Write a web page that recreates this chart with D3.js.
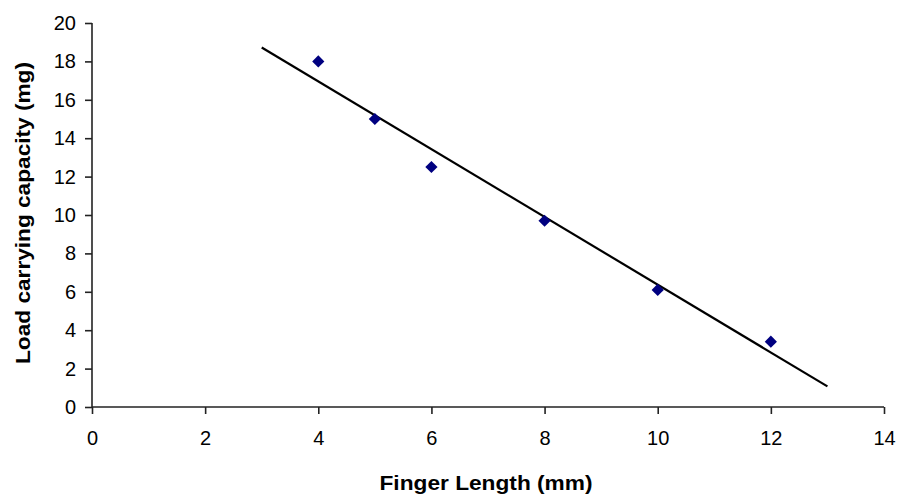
<!DOCTYPE html>
<html>
<head>
<meta charset="utf-8">
<script src="https://cdn.jsdelivr.net/npm/d3@7"></script>
<style>
  html, body { margin: 0; padding: 0; background: #fff; }
  svg { display: block; }
  text { font-family: "Liberation Sans", Arial, sans-serif; fill: #000; }
</style>
</head>
<body>
<svg id="chart" width="904" height="496"></svg>
<script>
// Data
const fingerLength = [4, 5, 6, 8, 10, 12];
const loadCapacity = [18, 15, 12.5, 9.7, 6.1, 3.4];
const trendRange = [3, 13];
const xTicks = [0, 2, 4, 6, 8, 10, 12, 14];
const yTicks = [0, 2, 4, 6, 8, 10, 12, 14, 16, 18, 20];
const xTitle = "Finger Length (mm)";
const yTitle = "Load carrying capacity (mg)";

(function () {
const svg = d3.select("#chart");
const mLeft = 92, mRight = 884, mTop = 23, mBottom = 407;

const x = d3.scaleLinear().domain([0, 14]).range([mLeft, mRight]);
const y = d3.scaleLinear().domain([0, 20]).range([mBottom, mTop]);

// Linear regression trend line from the data
const n = fingerLength.length;
const mx = d3.mean(fingerLength), my = d3.mean(loadCapacity);
let sxy = 0, sxx = 0;
for (let i = 0; i < n; i++) {
  sxy += (fingerLength[i] - mx) * (loadCapacity[i] - my);
  sxx += (fingerLength[i] - mx) ** 2;
}
const slope = sxy / sxx, intercept = my - slope * mx;

// Axes
const xAxis = d3.axisBottom(x).tickValues(xTicks).tickSize(7).tickPadding(17);
const yAxis = d3.axisLeft(y).tickValues(yTicks).tickSize(7).tickPadding(9);

const gx = svg.append("g").attr("transform", `translate(0,${mBottom})`).call(xAxis);
const gy = svg.append("g").attr("transform", `translate(${mLeft},0)`).call(yAxis);

[gx, gy].forEach(g => {
  g.select(".domain").attr("stroke", "#222").attr("stroke-width", 1.6);
  g.selectAll(".tick line").attr("stroke", "#222").attr("stroke-width", 1.6);
  g.selectAll(".tick text")
    .attr("font-family", "'Liberation Sans', Arial, sans-serif")
    .attr("font-size", 20)
    .attr("fill", "#000");
});
gx.select(".domain").attr("d", `M${mLeft},0H${mRight}`);
gy.select(".domain").attr("d", `M0,${mTop}V${mBottom}`);

// Trend line
svg.append("line")
  .attr("x1", x(trendRange[0])).attr("y1", y(slope * trendRange[0] + intercept))
  .attr("x2", x(trendRange[1])).attr("y2", y(slope * trendRange[1] + intercept))
  .attr("stroke", "#000").attr("stroke-width", 2.2);

// Markers (diamonds)
const diamond = d3.symbol().type(d3.symbolDiamond2).size(95);
svg.append("g").selectAll("path")
  .data(fingerLength.map((v, i) => [v, loadCapacity[i]]))
  .join("path")
  .attr("d", diamond)
  .attr("transform", d => `translate(${x(d[0])},${y(d[1])})`)
  .attr("fill", "#000080");

// Axis titles
svg.append("text")
  .attr("x", (mLeft + mRight) / 2 - 2).attr("y", 490)
  .attr("text-anchor", "middle")
  .attr("font-size", 21).attr("font-weight", "bold")
  .attr("textLength", 213).attr("lengthAdjust", "spacingAndGlyphs")
  .text(xTitle);

svg.append("text")
  .attr("transform", `translate(30,${(mTop + mBottom) / 2 - 2}) rotate(-90)`)
  .attr("text-anchor", "middle")
  .attr("font-size", 21).attr("font-weight", "bold")
  .attr("textLength", 302).attr("lengthAdjust", "spacingAndGlyphs")
  .text(yTitle);
})();
</script>
</body>
</html>
